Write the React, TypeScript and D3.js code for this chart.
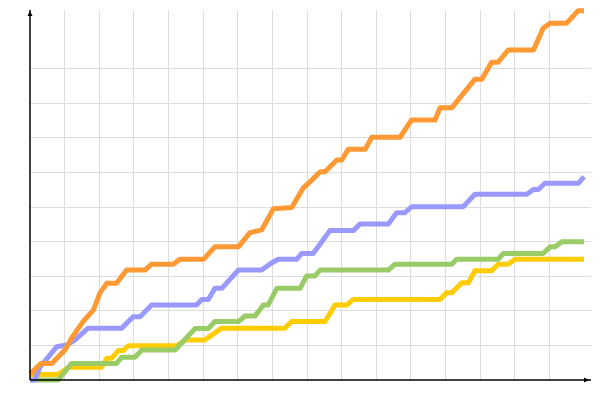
import React from "react";
import * as d3 from "d3";

type Pt = [number, number];

// x: time step (0..160), y: cumulative value
const orange: Pt[] = [
  [0, 1.7], [3.2, 4.8], [6.3, 4.8], [10.1, 8.7], [12.0, 12.1], [15.3, 16.9],
  [18.3, 20.2], [20.2, 25.2], [22.2, 28.0], [25.0, 28.0], [27.9, 31.8],
  [33.2, 31.8], [35.1, 33.5], [41.4, 33.5], [43.3, 34.9], [50.1, 34.9],
  [53.4, 38.5], [60.2, 38.5], [63.5, 42.6], [66.9, 43.4], [70.3, 49.5],
  [75.6, 49.9], [78.8, 55.4], [81.4, 57.8], [83.8, 60.2], [85.2, 60.2],
  [88.6, 63.6], [90.0, 63.6], [91.9, 66.7], [96.8, 66.7], [98.7, 70.2],
  [106.9, 70.2], [110.2, 75.2], [117.0, 75.2], [118.4, 78.7], [121.8, 78.7],
  [128.5, 87.0], [130.5, 87.0], [133.3, 91.9], [135.2, 91.9], [138.1, 95.4],
  [145.4, 95.4], [148.2, 101.7], [150.2, 103.2], [155.0, 103.2],
  [158.3, 106.8], [160, 106.8],
];

const purple: Pt[] = [
  [0, 0], [1.4, 0], [2.9, 3.8], [5.3, 6.7], [7.7, 9.6], [10.6, 10.1],
  [13.0, 11.6], [16.8, 15.0], [26.5, 15.0], [29.8, 18.3], [31.8, 18.3],
  [35.1, 21.7], [48.1, 21.7], [49.6, 23.3], [51.5, 23.3], [53.4, 26.5],
  [55.4, 26.5], [60.2, 31.8], [66.9, 31.8], [69.5, 33.7], [71.7, 34.9],
  [77.0, 34.9], [78.5, 36.6], [81.8, 36.6], [86.6, 43.2], [93.4, 43.2],
  [95.3, 45.1], [103.5, 45.1], [105.9, 48.4], [108.3, 48.4], [110.2, 50.1],
  [125.1, 50.1], [128.5, 53.7], [143.5, 53.7], [145.4, 55.1], [146.8, 55.1],
  [148.7, 56.9], [158.4, 56.9], [160, 58.8],
];

const green: Pt[] = [
  [0, 0], [8.2, 0], [12.0, 4.8], [25.0, 4.8], [26.5, 6.6], [30.3, 6.6],
  [32.3, 8.7], [41.9, 8.7], [47.7, 14.9], [51.5, 14.9], [53.4, 16.9],
  [60.2, 16.9], [62.1, 18.5], [65.0, 18.5], [67.4, 21.7], [68.8, 21.7],
  [71.3, 26.5], [78.0, 26.5], [79.9, 30.1], [82.3, 30.1], [83.8, 31.8],
  [103.5, 31.8], [105.4, 33.5], [121.8, 33.5], [123.2, 34.9], [135.2, 34.9],
  [136.7, 36.6], [148.2, 36.6], [150.2, 38.5], [151.6, 38.5], [153.6, 40.0],
  [160, 40.0],
];

const yellow: Pt[] = [
  [0, 1.6], [8.2, 1.6], [11.1, 3.7], [20.7, 3.7], [22.2, 6.3], [23.6, 6.3],
  [25.5, 8.5], [26.9, 8.5], [28.4, 9.9], [42.4, 9.9], [44.8, 11.6],
  [50.5, 11.6], [55.4, 15.0], [73.6, 15.0], [75.6, 16.9], [85.2, 16.9],
  [88.1, 21.7], [91.5, 21.7], [93.4, 23.3], [118.4, 23.3], [120.3, 25.2],
  [121.8, 25.2], [124.7, 28.1], [126.6, 28.1], [128.5, 31.6], [133.3, 31.6],
  [135.2, 33.5], [138.1, 33.5], [140.1, 34.9], [160, 34.9],
];

const xTicks = [10, 20, 30, 40, 50, 60, 70, 80, 90, 100, 110, 120, 130, 140, 150];
const yTicks = [10, 20, 30, 40, 50, 60, 70, 80, 90];

const series = [
  { name: "yellow", color: "#ffcc00", data: yellow },
  { name: "green", color: "#99cc66", data: green },
  { name: "purple", color: "#9999ff", data: purple },
  { name: "orange", color: "#ff9933", data: orange },
];

export default function App() {
  const width = 600;
  const height = 400;
  const margin = { top: 10, right: 16, bottom: 20, left: 30 };

  const x = d3.scaleLinear().domain([0, 160]).range([margin.left, 584]);
  const y = d3.scaleLinear().domain([0, 107]).range([height - margin.bottom, margin.top]);

  const x0 = x.range()[0];
  const xEnd = width - 9;
  const y0 = y.range()[0];
  const yTop = y.range()[1];

  const line = d3
    .line<Pt>()
    .x((d) => x(d[0]))
    .y((d) => y(d[1]));

  return (
    <svg
      width={width}
      height={height}
      style={{ position: "absolute", left: 0, top: 0, background: "#fff" }}
    >
      {/* grid */}
      <g stroke="#dddddd" strokeWidth={1} shapeRendering="crispEdges">
        {xTicks.map((t) => (
          <line key={"vx" + t} x1={x(t)} x2={x(t)} y1={yTop} y2={y0} />
        ))}
        {yTicks.map((t) => (
          <line key={"hy" + t} x1={x0} x2={xEnd} y1={y(t)} y2={y(t)} />
        ))}
      </g>

      {/* series */}
      {series.map((s) => (
        <path
          key={s.name}
          d={line(s.data) || ""}
          fill="none"
          stroke={s.color}
          strokeWidth={5}
          strokeLinejoin="round"
        />
      ))}

      {/* axes */}
      <g stroke="#000" strokeWidth={1.5}>
        <line x1={x0} x2={x0} y1={y0} y2={yTop} />
        <line x1={x0} x2={xEnd} y1={y0} y2={y0} />
      </g>
      <path d={`M${x0},${yTop + 1} L${x0 - 2.5},${yTop + 6} L${x0 + 2.5},${yTop + 6} Z`} fill="#000" />
      <path d={`M${xEnd - 2},${y0} L${xEnd - 7},${y0 - 2.5} L${xEnd - 7},${y0 + 2.5} Z`} fill="#000" />
    </svg>
  );
}
